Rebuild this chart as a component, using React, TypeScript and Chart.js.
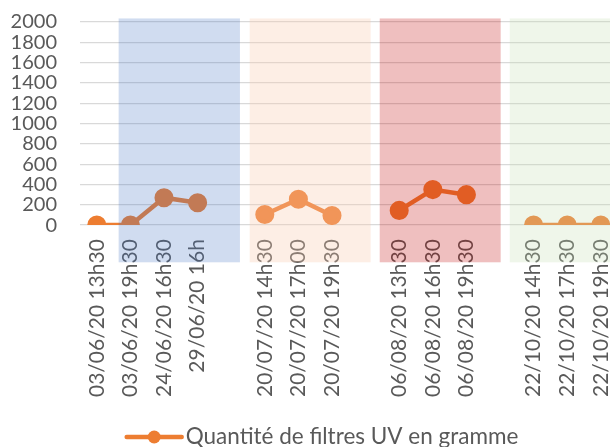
import React, { useEffect, useRef } from "react";
import { Chart, registerables } from "chart.js";

Chart.register(...registerables);

const categories = [
  "03/06/20 13h30",
  "03/06/20 19h30",
  "24/06/20 16h30",
  "29/06/20 16h",
  "",
  "20/07/20 14h30",
  "20/07/20 17h00",
  "20/07/20 19h30",
  "",
  "06/08/20 13h30",
  "06/08/20 16h30",
  "06/08/20 19h30",
  "",
  "22/10/20 14h30",
  "22/10/20 17h30",
  "22/10/20 19h30",
];
const quantities: (number | null)[] = [0, 0, 270, 220, null, 105, 255, 95, null, 145, 350, 300, null, 0, 0, 0];
const seriesLabel = "Quantité de filtres UV en gramme";
const yMin = 0;
const yMax = 2000;
const yStep = 200;

// shaded period bands (in category-index units along x, value units along y)
const bandStarts = [0.65, 4.55, 8.42, 12.29];
const bandEnds = [4.26, 8.15, 12.02, 15.89];
const bandColors = [
  "rgba(68,114,196,0.25)",
  "rgba(248,203,173,0.32)",
  "rgba(192,0,0,0.25)",
  "rgba(197,224,180,0.28)",
];
const bandTop = 2035;
const bandBottom = -366;

const FONT = "Lato, 'Liberation Sans', sans-serif";
const TEXT = "#595959";
const LINE = "#ED7D31";
const CANVAS_W = 643;
const CANVAS_H = 447;

const bandsPlugin = {
  id: "bands",
  afterDraw(chart: any) {
    const x = chart.scales.x;
    const y = chart.scales.y;
    const ctx = chart.ctx;
    ctx.save();
    const t = y.getPixelForValue(bandTop);
    const b = y.getPixelForValue(bandBottom);
    for (let i = 0; i < bandStarts.length; i++) {
      const x0 = x.getPixelForValue(bandStarts[i]);
      const x1 = x.getPixelForValue(bandEnds[i]);
      ctx.fillStyle = bandColors[i];
      ctx.fillRect(x0, t, x1 - x0, b - t);
    }
    ctx.restore();
  },
};

const legendPlugin = {
  id: "customLegend",
  afterDraw(chart: any) {
    const ctx = chart.ctx;
    const ds = chart.data.datasets[0];
    ctx.save();
    ctx.font = `22.5px ${FONT}`;
    const tw = ctx.measureText(ds.label).width;
    const iconW = 59;
    const gap = 2;
    const total = iconW + gap + tw;
    const x0 = chart.width / 2 - total / 2;
    const cy = chart.height - 10;
    ctx.strokeStyle = LINE;
    ctx.lineWidth = 4.5;
    ctx.lineCap = "round";
    ctx.beginPath();
    ctx.moveTo(x0 + 2, cy);
    ctx.lineTo(x0 + iconW - 2, cy);
    ctx.stroke();
    ctx.fillStyle = LINE;
    ctx.beginPath();
    ctx.arc(x0 + iconW / 2, cy, 6.5, 0, Math.PI * 2);
    ctx.fill();
    ctx.fillStyle = TEXT;
    ctx.textBaseline = "middle";
    ctx.textAlign = "left";
    ctx.fillText(ds.label, x0 + iconW + gap, cy);
    ctx.restore();
  },
};

export default function App() {
  const ref = useRef<HTMLCanvasElement | null>(null);
  useEffect(() => {
    document.body.style.margin = "0";
    document.body.style.overflow = "hidden";
    document.documentElement.style.overflow = "hidden";
    const chart = new Chart(ref.current!, {
      type: "line",
      data: {
        labels: categories,
        datasets: [
          {
            label: seriesLabel,
            data: quantities,
            borderColor: LINE,
            backgroundColor: LINE,
            pointBackgroundColor: LINE,
            pointBorderColor: LINE,
            borderWidth: 4.5,
            pointRadius: 7.3,
            pointHoverRadius: 7.3,
            spanGaps: false,
            tension: 0,
          },
        ],
      },
      options: {
        responsive: false,
        animation: false,
        layout: { padding: { left: 10, right: 0, top: 22, bottom: 44 } },
        plugins: {
          tooltip: { enabled: false },
          legend: { display: false },
        },
        scales: {
          x: {
            offset: true,
            grid: { display: false },
            border: { display: false },
            ticks: {
              autoSkip: false,
              minRotation: 90,
              maxRotation: 90,
              padding: 6,
              color: TEXT,
              font: { family: FONT, size: 21 },
            },
            afterFit: (s: any) => {
              s.paddingLeft = 0;
              s.paddingRight = 0;
            },
          },
          y: {
            min: yMin,
            max: yMax,
            grid: { color: "#D9D9D9", lineWidth: 1.3, drawTicks: false },
            border: { display: false },
            ticks: {
              stepSize: yStep,
              autoSkip: false,
              padding: 23,
              color: TEXT,
              font: { family: FONT, size: 20 },
              callback: (v: any) => String(v),
            },
            afterFit: (s: any) => {
              s.width = 70;
              s.paddingTop = 0;
              s.paddingBottom = 0;
            },
          },
          y2: {
            position: "right",
            display: true,
            grid: { display: false },
            border: { display: false },
            ticks: { display: false },
            afterFit: (s: any) => {
              s.width = 25.4;
            },
          },
        },
      },
      plugins: [bandsPlugin, legendPlugin],
    });
    return () => chart.destroy();
  }, []);
  return (
    <div style={{ width: 610, height: CANVAS_H, overflow: "hidden", position: "relative" }}>
      <canvas ref={ref} width={CANVAS_W} height={CANVAS_H} style={{ position: "absolute", left: 0, top: 0 }} />
    </div>
  );
}
